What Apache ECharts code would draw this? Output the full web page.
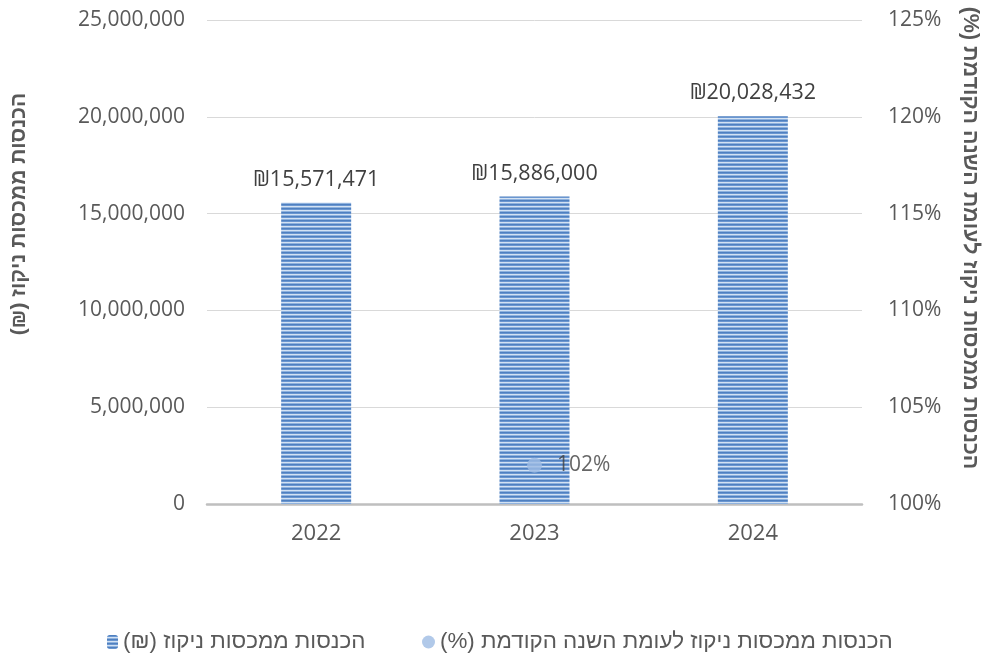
<!DOCTYPE html>
<html>
<head>
<meta charset="utf-8">
<script src="https://cdn.jsdelivr.net/npm/echarts@6/dist/echarts.min.js"></script>
<style>
html,body{margin:0;padding:0;background:#fff;}
#main{width:990px;height:656px;direction:rtl;}
</style>
</head>
<body>
<div id="main"></div>
<script>
const years = ['2022', '2023', '2024'];
const revenue = [15571471, 15886000, 20028432];
const pctYears = ['2023'];
const pctValues = [102];
const barName = 'הכנסות ממכסות ניקוז (₪)';
const pctName = 'הכנסות ממכסות ניקוז לעומת השנה הקודמת (%)';
const leftTitle = 'הכנסות ממכסות ניקוז (₪)';
const rightTitle = 'הכנסות ממכסות ניקוז לעומת השנה הקודמת (%)';

function stripePattern() {
  const c = document.createElement('canvas');
  c.width = 4; c.height = 4;
  const ctx = c.getContext('2d');
  const rows = ['#4f80c0', '#6a96d0', '#d3e2f3', '#8fb2de'];
  rows.forEach((col, i) => { ctx.fillStyle = col; ctx.fillRect(0, i, 4, 1); });
  return { image: c, repeat: 'repeat' };
}
const pattern = stripePattern();
const FONT = '"Open Sans", "Liberation Sans", "DejaVu Sans", sans-serif';
const HFONT = '"Liberation Sans", "Open Sans", "DejaVu Sans", sans-serif';

const chart = echarts.init(document.getElementById('main'));
chart.setOption({
  animation: false,
  textStyle: { fontFamily: FONT },
  grid: { left: 207, right: 128, top: 20, bottom: 152 },
  legend: [
    {
      data: [barName], left: 102, top: 626, itemWidth: 11, itemHeight: 14, itemGap: 6,
      textStyle: { fontSize: 22.4, color: '#595959', fontFamily: HFONT }
    },
    {
      data: [{ name: pctName, icon: 'circle' }], left: 417, top: 626, itemWidth: 13, itemHeight: 13,
      textStyle: { fontSize: 22.4, color: '#595959', fontFamily: HFONT }
    }
  ],
  xAxis: {
    type: 'category', data: years,
    axisLine: { lineStyle: { color: '#bfbfbf', width: 2.5 } },
    axisTick: { show: false },
    axisLabel: { fontSize: 22, color: '#595959', margin: 19 }
  },
  yAxis: [
    {
      type: 'value', min: 0, max: 25000000, interval: 5000000,
      axisLine: { show: false }, axisTick: { show: false },
      splitLine: { lineStyle: { color: '#d9d9d9', width: 1 } },
      axisLabel: { fontSize: 21, color: '#595959', margin: 22,
        formatter: v => v.toLocaleString('en-US') }
    },
    {
      type: 'value', min: 100, max: 125, interval: 5,
      axisLine: { show: false }, axisTick: { show: false },
      splitLine: { show: false },
      axisLabel: { fontSize: 21, color: '#595959', margin: 26, formatter: '{value}%' }
    }
  ],
  graphic: [
    {
      type: 'text', x: 19, y: 214, rotation: Math.PI / 2,
      style: { text: leftTitle, font: 'bold 21px ' + HFONT, fill: '#595959',
        textAlign: 'center', textVerticalAlign: 'middle' }
    },
    {
      type: 'text', x: 970, y: 238, rotation: -Math.PI / 2,
      style: { text: rightTitle, font: 'bold 21.5px ' + HFONT, fill: '#595959',
        textAlign: 'center', textVerticalAlign: 'middle' }
    }
  ],
  series: [
    {
      name: barName, type: 'bar', yAxisIndex: 0, barWidth: 70,
      data: revenue,
      itemStyle: { color: pattern },
      label: { show: true, position: 'top', distance: 12, fontSize: 21.5, color: '#404040',
        formatter: p => '₪' + p.value.toLocaleString('en-US') }
    },
    {
      name: pctName, type: 'scatter', yAxisIndex: 1, symbolSize: 15,
      data: pctYears.map((y, i) => [y, pctValues[i]]),
      itemStyle: { color: '#9dbbe3' },
      label: { show: true, position: 'right', distance: 15, fontSize: 21, color: '#404040',
        formatter: p => p.value[1] + '%' }
    }
  ]
});
</script>
</body>
</html>
